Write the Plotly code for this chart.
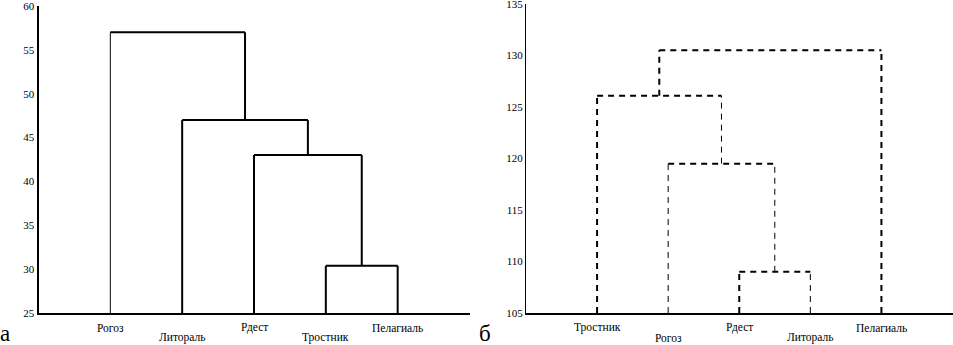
import plotly.graph_objects as go

# ---------------- data ----------------
leaves_a = ["Рогоз", "Литораль", "Рдест", "Тростник", "Пелагиаль"]
# merges: (child1, child2, height); leaves are 0..4, new nodes 5,6,...
merge_pairs_a = [(3, 4), (2, 5), (1, 6), (0, 7)]
heights_a = [30.4, 43.0, 47.0, 57.0]
yticks_a = [25, 30, 35, 40, 45, 50, 55, 60]

leaves_b = ["Тростник", "Рогоз", "Рдест", "Литораль", "Пелагиаль"]
merge_pairs_b = [(2, 3), (1, 5), (0, 6), (7, 4)]
heights_b = [109.0, 119.5, 126.1, 130.5]
yticks_b = [105, 110, 115, 120, 125, 130, 135]

panel_labels = ["а", "б"]

# ---------------- helpers ----------------
def dendro_segments(n, pairs, heights, base):
    xs = {i: i + 1 for i in range(n)}
    hs = {i: base for i in range(n)}
    segs = []  # (x0,y0,x1,y1,tag)
    for k, ((a, b), h) in enumerate(zip(pairs, heights)):
        node = n + k
        segs.append((xs[a], hs[a], xs[a], h, a))
        segs.append((xs[b], hs[b], xs[b], h, b))
        segs.append((xs[a], h, xs[b], h, "h"))
        xs[node] = (xs[a] + xs[b]) / 2
        hs[node] = h
    return segs

W, H = 953, 345
fig = go.Figure()

def add_segs(segs, thin, xref, yref, dash):
    for x0, y0, x1, y1, tag in segs:
        w = 1 if tag in thin else 2
        fig.add_trace(go.Scatter(
            x=[x0, x1], y=[y0, y1], mode="lines",
            line=dict(color="black", width=w, dash=dash),
            xaxis=xref, yaxis=yref, hoverinfo="skip", showlegend=False,
            cliponaxis=False))

segs_a = dendro_segments(len(leaves_a), merge_pairs_a, heights_a, yticks_a[0])
segs_b = dendro_segments(len(leaves_b), merge_pairs_b, heights_b, yticks_b[0])
add_segs(segs_a, {0}, "x", "y", "solid")
add_segs(segs_b, {1, 3, 5, 6}, "x2", "y2", "6px,5px")

tickfont = dict(family="Liberation Serif", size=11, color="black")

common = dict(showgrid=False, zeroline=False, showline=True, linecolor="black",
              ticks="", fixedrange=True, automargin=False)

fig.update_layout(
    width=W, height=H, autosize=False,
    margin=dict(l=0, r=0, t=0, b=0, pad=0),
    paper_bgcolor="white", plot_bgcolor="white",
    showlegend=False,
    xaxis=dict(domain=[38.5 / W, 469.5 / W], range=[0, 6], showticklabels=False,
               linewidth=2, anchor="y", **common),
    yaxis=dict(domain=[32 / H, 339 / H], range=[25, 60], tickvals=yticks_a,
               linewidth=2, tickfont=tickfont, anchor="x",
               ticklabeloverflow="allow", **common),
    xaxis2=dict(domain=[526 / W, 952.5 / W], range=[0, 6], showticklabels=False,
                linewidth=2, anchor="y2", **common),
    yaxis2=dict(domain=[32 / H, 341 / H], range=[105, 135], tickvals=yticks_b,
                linewidth=1, tickfont=tickfont, anchor="x2",
                ticklabeloverflow="allow", **common),
)

labfont = dict(family="Liberation Serif", size=11.5, color="black")
row_y = [(H - 327.5) / H, (H - 337.5) / H]
for xref, leaves in (("x", leaves_a), ("x2", leaves_b)):
    for i, name in enumerate(leaves):
        fig.add_annotation(x=i + 1, y=row_y[i % 2], xref=xref, yref="paper",
                           text=name, showarrow=False, font=labfont,
                           xanchor="center", yanchor="middle")

for px, lab in zip([4.5, 485], panel_labels):
    fig.add_annotation(x=px / W, y=0, xref="paper", yref="paper",
                       text=lab, showarrow=False, borderpad=0, yshift=-2,
                       font=dict(family="Liberation Serif", size=23, color="black"),
                       xanchor="center", yanchor="bottom")

fig.write_html("out.html",
               config={"displayModeBar": False, "staticPlot": True},
               post_script="document.body.style.margin='0';"
                           "document.body.style.padding='0';")
